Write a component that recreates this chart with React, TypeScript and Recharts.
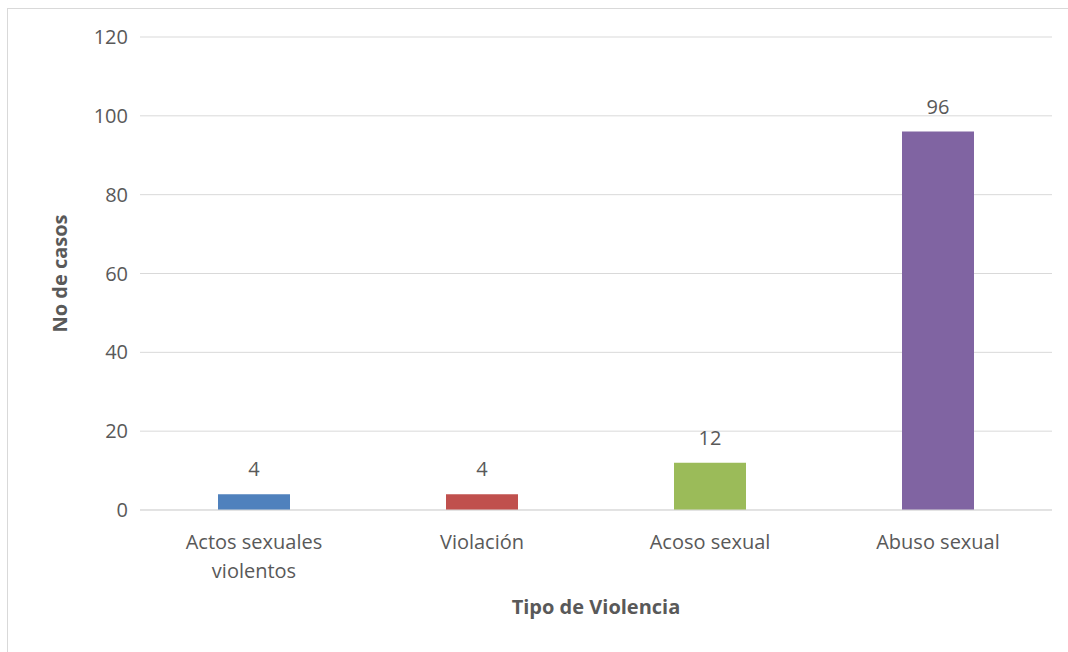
import React from "react";
import { BarChart, Bar, XAxis, YAxis, CartesianGrid, Cell, LabelList, Label } from "recharts";

const categories = ["Actos sexuales violentos", "Violación", "Acoso sexual", "Abuso sexual"];
const casos = [4, 4, 12, 96];
const colors = ["#4F81BD", "#C0504D", "#9BBB59", "#8064A2"];
const yTicks = [0, 20, 40, 60, 80, 100, 120];

const data = categories.map((name, i) => ({ name, casos: casos[i] }));

const FONT = "'Open Sans', sans-serif";
const TEXT = "#595959";

function wrap(label: string, max: number) {
  const lines: string[] = [];
  let cur = "";
  for (const w of label.split(" ")) {
    const next = cur ? cur + " " + w : w;
    if (next.length > max && cur) {
      lines.push(cur);
      cur = w;
    } else cur = next;
  }
  if (cur) lines.push(cur);
  return lines;
}

function CategoryTick(props: any) {
  const { x, y, payload } = props;
  const lines = wrap(payload.value, 15);
  return (
    <text x={x} y={y} textAnchor="middle" fill={TEXT} fontFamily={FONT} fontSize={20}>
      {lines.map((l, i) => (
        <tspan key={i} x={x} dy={i === 0 ? 31 : 29}>
          {l}
        </tspan>
      ))}
    </text>
  );
}

export default function App() {
  return (
    <div style={{ position: "absolute", left: 0, top: 0, width: 1068, height: 652, background: "#fff" }}>
      <div
        style={{
          position: "absolute",
          left: 7,
          top: 8,
          right: 0,
          bottom: 0,
          borderTop: "1px solid #D9D9D9",
          borderLeft: "1px solid #D9D9D9",
        }}
      />
      <div style={{ position: "absolute", left: 0, top: 0 }}>
        <BarChart
          width={1068}
          height={652}
          data={data}
          margin={{ top: 37, right: 16, left: 0, bottom: 0 }}
        >
          <CartesianGrid vertical={false} stroke="#D9D9D9" strokeWidth={1} />
          <XAxis
            dataKey="name"
            height={142}
            axisLine={{ stroke: "#D9D9D9" }}
            tickLine={false}
            interval={0}
            tick={<CategoryTick />}
          >
            <Label
              value="Tipo de Violencia"
              position="center"
              dy={26}
              fill={TEXT}
              fontFamily={FONT}
              fontSize={20}
              fontWeight="bold"
            />
          </XAxis>
          <YAxis
            width={140}
            domain={[0, 120]}
            ticks={yTicks}
            axisLine={false}
            tickLine={false}
            tickSize={0}
            tickMargin={12}
            tick={{ fill: TEXT, fontFamily: FONT, fontSize: 20 }}
          >
            <Label
              value="No de casos"
              position="center"
              angle={-90}
              dx={-10}
              fill={TEXT}
              fontFamily={FONT}
              fontSize={20}
              fontWeight="bold"
            />
          </YAxis>
          <Bar dataKey="casos" barSize={72} isAnimationActive={false}>
            {data.map((d, i) => (
              <Cell key={d.name} fill={colors[i]} />
            ))}
            <LabelList
              dataKey="casos"
              position="top"
              offset={18}
              fill={TEXT}
              fontFamily={FONT}
              fontSize={20}
            />
          </Bar>
        </BarChart>
      </div>
    </div>
  );
}
